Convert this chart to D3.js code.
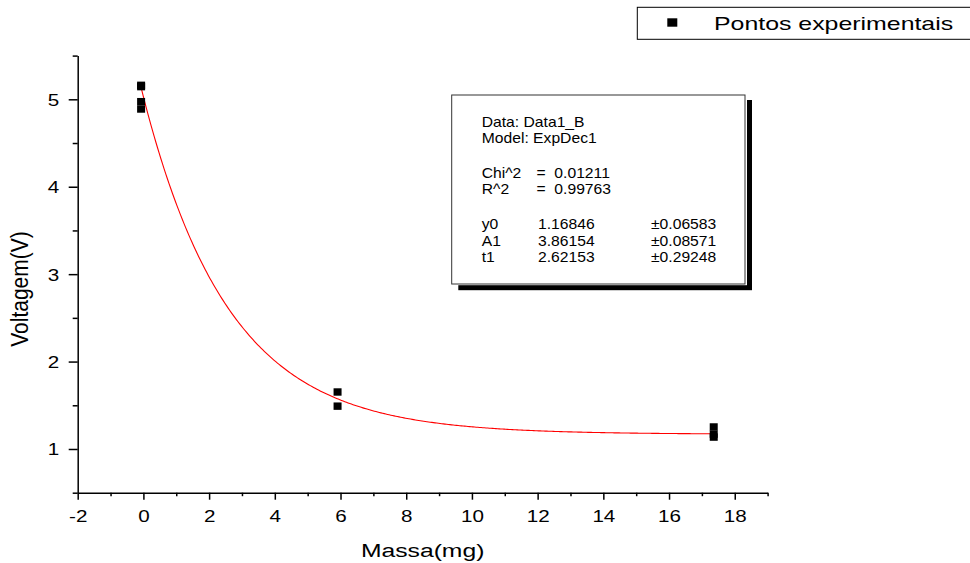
<!DOCTYPE html>
<html>
<head>
  <meta charset="utf-8">
  <title>Voltagem x Massa</title>
  <style>
    body { margin: 0; background: #fff; }
    svg text { font-family: "Liberation Sans", Arial, sans-serif; fill: #000; white-space: pre; }
    .axis path, .axis line { stroke: #000; stroke-width: 1.5; }
  </style>
</head>
<body>
  <script src="https://d3js.org/d3.v7.min.js"></script>
  <script>
    // measured points
    var massa = [-0.07, -0.07, -0.07, -0.07, 5.91, 5.91, 17.36, 17.36, 17.36];
    var voltagem = [5.16, 5.145, 4.973, 4.889, 1.652, 1.49, 1.252, 1.17, 1.136];

    // ExpDec1 fit reported in the box
    var fitNames = ["y0", "A1", "t1"];
    var fitValues = [1.16846, 3.86154, 2.62153];
    var fitErrors = [0.06583, 0.08571, 0.29248];
    var fitInfo = ["Data: Data1_B", "Model: ExpDec1"];
    var fitStats = [["Chi^2", "=  0.01211"], ["R^2", "=  0.99763"]];

    var xTicks = [-2, 0, 2, 4, 6, 8, 10, 12, 14, 16, 18];
    var xMinor = [-1, 1, 3, 5, 7, 9, 11, 13, 15, 17, 19];
    var yTicks = [1, 2, 3, 4, 5];
    var yMinor = [0.5, 1.5, 2.5, 3.5, 4.5, 5.5];

    var W = 970, H = 563;
    var plotL = 77.7, plotR = 767.6, plotT = 55.6, plotB = 492.7;

    var svg = d3.select("body").append("svg")
      .attr("width", W)
      .attr("height", H);

    var x = d3.scaleLinear().domain([-2, 19]).range([plotL, plotR]);
    var y = d3.scaleLinear().domain([0.5, 5.5]).range([plotB, plotT]);
    var fmt = function (d) { return String(d); };

    // minor ticks
    svg.append("g").attr("class", "axis")
      .attr("transform", "translate(0," + plotB + ")")
      .call(d3.axisBottom(x).tickValues(xMinor).tickSize(3.5).tickSizeOuter(0).tickFormat(""))
      .select(".domain").remove();
    svg.append("g").attr("class", "axis")
      .attr("transform", "translate(" + plotL + ",0)")
      .call(d3.axisLeft(y).tickValues(yMinor).tickSize(5).tickSizeOuter(0).tickFormat(""))
      .select(".domain").remove();

    // x axis
    var gx = svg.append("g").attr("class", "axis")
      .attr("transform", "translate(0," + plotB + ")")
      .call(d3.axisBottom(x).tickValues(xTicks).tickSize(7).tickSizeOuter(0).tickFormat(fmt));
    gx.selectAll("text")
      .attr("y", 0).attr("dy", null)
      .attr("transform", "translate(0,29.6) scale(1.25,1)")
      .style("font-size", "16.5px");

    // y axis
    var gy = svg.append("g").attr("class", "axis")
      .attr("transform", "translate(" + plotL + ",0)")
      .call(d3.axisLeft(y).tickValues(yTicks).tickSize(9).tickSizeOuter(0).tickFormat(fmt));
    gy.selectAll("text")
      .attr("x", 0).attr("dy", "0.36em")
      .attr("transform", "translate(-18.4,0) scale(1.25,1)")
      .style("font-size", "16.5px");
    svg.selectAll(".axis").attr("font-family", null).attr("font-size", null);

    // axis titles
    svg.append("text")
      .attr("transform", "translate(" + ((plotL + plotR) / 2) + ",557) scale(1.3,1)")
      .attr("text-anchor", "middle")
      .style("font-size", "19px")
      .text("Massa(mg)");
    svg.append("text")
      .attr("transform", "translate(28.3,289) rotate(-90) scale(1,1.12)")
      .attr("text-anchor", "middle")
      .style("font-size", "21px")
      .text("Voltagem(V)");

    // fitted curve
    var fit = function (v) { return fitValues[0] + fitValues[1] * Math.exp(-v / fitValues[2]); };
    var xs = d3.range(d3.min(massa), d3.max(massa), 0.05).concat([d3.max(massa)]);
    svg.append("path")
      .datum(xs)
      .attr("fill", "none")
      .attr("stroke", "#ff0000")
      .attr("stroke-width", 1.1)
      .attr("d", d3.line().x(function (d) { return x(d); }).y(function (d) { return y(fit(d)); }));

    // points
    svg.selectAll(".pt")
      .data(massa)
      .enter().append("rect")
      .attr("class", "pt")
      .attr("x", function (d) { return x(d) - 4; })
      .attr("y", function (d, i) { return y(voltagem[i]) - 3.7; })
      .attr("width", 8)
      .attr("height", 7.4)
      .attr("fill", "#000");

    // fit report box with shadow
    var bx = 451.7, by = 95, bw = 293.3, bh = 189;
    svg.append("rect").attr("x", bx + bw + 2).attr("y", by + 5).attr("width", 5).attr("height", bh + 1).attr("fill", "#000");
    svg.append("rect").attr("x", bx + 6.6).attr("y", by + bh + 1.2).attr("width", bw + 0.4).attr("height", 5).attr("fill", "#000");
    svg.append("rect").attr("x", bx).attr("y", by).attr("width", bw).attr("height", bh)
      .attr("fill", "#fff").attr("stroke", "#333").attr("stroke-width", 1);

    var boxText = function (tx, ty, s) {
      svg.append("text")
        .attr("transform", "translate(" + tx + "," + ty + ") scale(1.12,1)")
        .style("font-size", "14px")
        .text(s);
    };
    fitInfo.forEach(function (s, i) { boxText(481.7, 127 + i * 16, s); });
    fitStats.forEach(function (r, i) {
      boxText(481.7, 178 + i * 16, r[0]);
      boxText(536.5, 178 + i * 16, r[1]);
    });
    fitNames.forEach(function (n, i) {
      boxText(481.7, 229 + i * 16.5, n);
      boxText(538, 229 + i * 16.5, d3.format(".5f")(fitValues[i]));
      boxText(651, 229 + i * 16.5, "\u00b1" + d3.format(".5f")(fitErrors[i]));
    });

    // legend
    svg.append("rect").attr("x", 637.3).attr("y", 7.3).attr("width", 345).attr("height", 32)
      .attr("fill", "#fff").attr("stroke", "#000").attr("stroke-width", 1);
    svg.append("rect").attr("x", 667.3).attr("y", 18.3).attr("width", 10).attr("height", 8.4).attr("fill", "#000");
    svg.append("text")
      .attr("transform", "translate(714,30) scale(1.31,1)")
      .style("font-size", "19px")
      .text("Pontos experimentais");
  </script>
</body>
</html>
